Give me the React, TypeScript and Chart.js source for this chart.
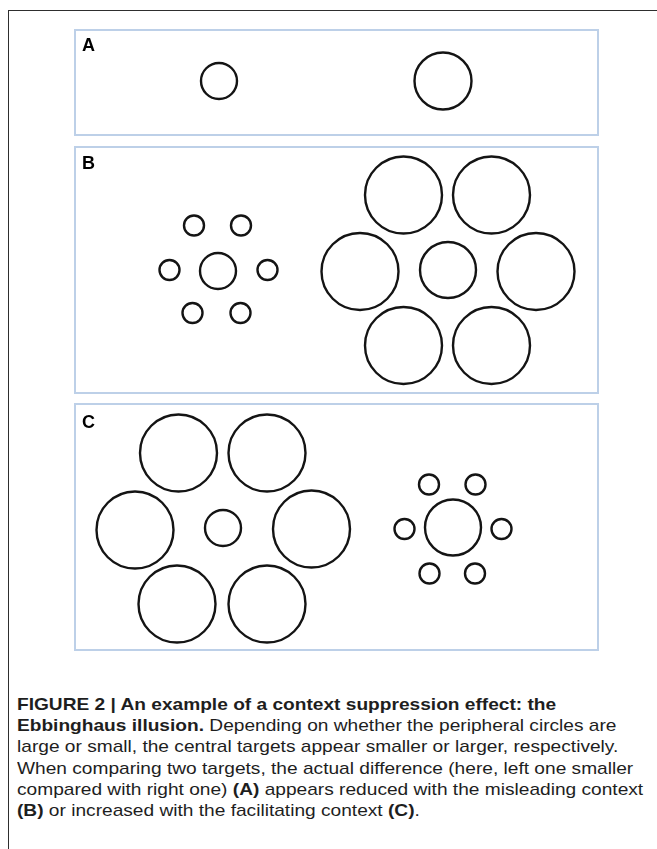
import React, { useEffect, useRef } from "react";
import { Chart, registerables } from "chart.js";

Chart.register(...registerables);

// ---- Data: circle centres (panel units, origin top-left) and radii ----
// Panel A: two isolated targets
const panelA_x = [145, 369];
const panelA_y = [52, 52];
const panelA_r = [18, 28.5];

// Panel B: left target with small flankers, right target with large flankers
const panelB_x = [144, 120, 167, 95.5, 193.5, 118.5, 166.5, 374, 329.5, 417.5, 286, 462, 329.5, 417.5];
const panelB_y = [125, 79.5, 79.5, 124, 124, 167, 167, 124, 49, 49, 125.5, 125.5, 199.5, 199.5];
const panelB_r = [18, 10, 10, 10, 10, 10, 10, 28, 38.5, 38.5, 38.5, 38.5, 38.5, 38.5];

// Panel C: left target with large flankers, right target with small flankers
const panelC_x = [149, 104.5, 193, 61, 237.5, 103, 193, 379, 355, 401.5, 330.5, 427.5, 355.5, 401];
const panelC_y = [125, 50, 50, 127, 126, 201, 201, 124.5, 81.5, 81.5, 126, 126, 170.5, 170.5];
const panelC_r = [18, 38.5, 38.5, 38.5, 38.5, 38.5, 38.5, 28, 10, 10, 10, 10, 10, 10];

const panelLabels = ["A", "B", "C"];

const captionBold1 = "FIGURE 2 | An example of a context suppression effect: the";
const captionBold2 = "Ebbinghaus illusion.";

type PanelProps = {
  left: number;
  top: number;
  width: number;
  height: number;
  label: string;
  labelTop: number;
  xs: number[];
  ys: number[];
  rs: number[];
};

function CirclePanel({ left, top, width, height, label, labelTop, xs, ys, rs }: PanelProps) {
  const ref = useRef<HTMLCanvasElement>(null);
  useEffect(() => {
    if (!ref.current) return;
    const data = xs.map((x, i) => ({ x, y: ys[i], r: rs[i] }));
    const chart = new Chart(ref.current, {
      type: "bubble",
      data: {
        datasets: [
          {
            data,
            backgroundColor: "rgba(0,0,0,0)",
            borderColor: "#141414",
            borderWidth: 2.4,
            hoverBorderWidth: 2.4,
            hoverRadius: 0,
            clip: false as any,
          },
        ],
      },
      options: {
        animation: false,
        responsive: false,
        events: [],
        layout: { padding: 0, autoPadding: false },
        plugins: { legend: { display: false }, tooltip: { enabled: false } },
        scales: {
          x: { type: "linear", min: 0, max: width, display: false },
          y: { type: "linear", min: 0, max: height, reverse: true, display: false },
        },
      },
    });
    return () => chart.destroy();
  }, []);
  return (
    <div style={{ position: "absolute", left, top, width, height }}>
      <canvas ref={ref} width={width} height={height} style={{ position: "absolute", left: 0, top: 0, width, height }} />
      <div
        style={{
          position: "absolute",
          inset: 0,
          border: "2px solid #bdd0e8",
          boxSizing: "border-box",
          pointerEvents: "none",
        }}
      />
      <div
        style={{
          position: "absolute",
          left: 8,
          top: labelTop,
          font: "bold 18px 'Liberation Sans', Arial, sans-serif",
          lineHeight: "18px",
          color: "#000",
        }}
      >
        {label}
      </div>
    </div>
  );
}

export default function App() {
  const bold: React.CSSProperties = { fontWeight: "bold" };
  const line: React.CSSProperties = { whiteSpace: "nowrap" };
  return (
    <div
      style={{
        position: "fixed",
        left: 0,
        top: 0,
        width: 657,
        height: 849,
        overflow: "hidden",
        background: "#fff",
      }}
    >
      <div
        style={{
          position: "absolute",
          left: 8,
          top: 10,
          width: 800,
          height: 900,
          borderTop: "1px solid #2e2e2e",
          borderLeft: "1px solid #2e2e2e",
        }}
      />
      <CirclePanel left={74} top={29} width={525} height={107} label={panelLabels[0]} labelTop={7} xs={panelA_x} ys={panelA_y} rs={panelA_r} />
      <CirclePanel left={74} top={146} width={525} height={248} label={panelLabels[1]} labelTop={8} xs={panelB_x} ys={panelB_y} rs={panelB_r} />
      <CirclePanel left={74} top={403} width={525} height={248} label={panelLabels[2]} labelTop={10} xs={panelC_x} ys={panelC_y} rs={panelC_r} />
      <div
        style={{
          position: "absolute",
          left: 17,
          top: 694,
          font: "17px 'Liberation Sans', Arial, sans-serif",
          lineHeight: "21.2px",
          color: "#1e1e1e",
          transform: "scaleX(1.125)",
          transformOrigin: "0 0",
        }}
      >
        <div style={line}><span style={bold}>{captionBold1}</span></div>
        <div style={line}>
          <span style={bold}>{captionBold2}</span> Depending on whether the peripheral circles are
        </div>
        <div style={line}>large or small, the central targets appear smaller or larger, respectively.</div>
        <div style={line}>When comparing two targets, the actual difference (here, left one smaller</div>
        <div style={line}>
          compared with right one) <span style={bold}>(A)</span> appears reduced with the misleading context
        </div>
        <div style={line}>
          <span style={bold}>(B)</span> or increased with the facilitating context <span style={bold}>(C)</span>.
        </div>
      </div>
    </div>
  );
}
